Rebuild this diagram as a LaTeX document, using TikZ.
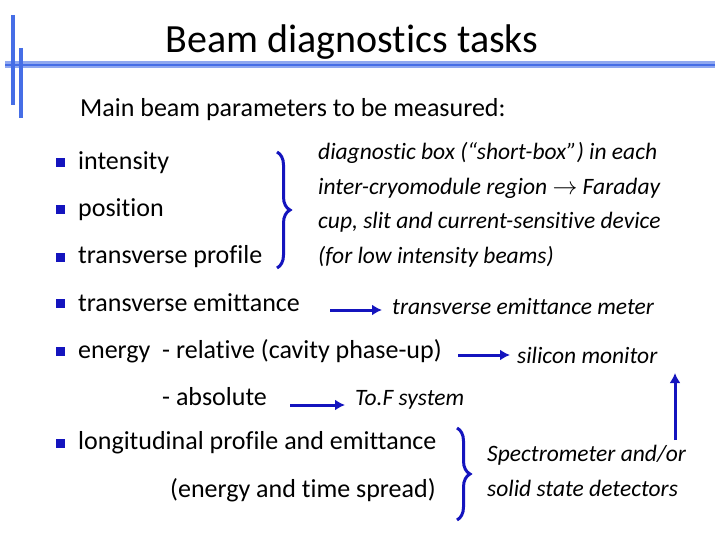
\documentclass[tikz,border=0pt]{standalone}
\usepackage{fontspec}
\setmainfont[Ligatures=NoCommon]{Carlito}
\usetikzlibrary{decorations.pathreplacing,arrows.meta}
\definecolor{barblue}{RGB}{70,110,230}
\definecolor{arrblue}{RGB}{20,20,190}
\tikzset{
  item/.style={anchor=west,inner sep=0pt,font=\fontsize{26}{28}\selectfont},
  note/.style={anchor=west,inner sep=0pt,font=\fontsize{23.5}{34.5}\selectfont\itshape,align=left},
  bul/.style={fill=arrblue,minimum size=9pt,inner sep=0pt},
  arr/.style={draw=arrblue,line width=3pt,-{Latex[length=10pt,width=11pt]}},
  brc/.style={draw=arrblue,line width=3pt,decorate,decoration={brace,amplitude=13pt}}
}
\begin{document}
\begin{tikzpicture}[x=1pt,y=-1pt]
		\useasboundingbox (0,0) rectangle (720,540);
		% Title bar
		\draw[barblue!60,line width=7pt] (5,65) -- (715,65);
		\draw[barblue,line width=2.5pt] (5,65) -- (715,65);
		\draw[barblue,line width=3.5pt] (13,15) -- (13,105);
		\draw[barblue,line width=3.5pt] (21,48) -- (21,118);
		\node[font=\fontsize{40}{42}\selectfont] (title) at (352,42) {Beam diagnostics tasks};
		\node[item] (main) at (80,110) {Main beam parameters to be measured:};
		% Bullet items
		\foreach \y/\txt/\nm in {163/intensity/int,210/position/pos,257/transverse profile/prof,
			303/transverse emittance/emit,351/{energy\ \ - relative (cavity phase-up)}/ener,443/longitudinal profile and emittance/long}{
			\node[bul] at (60,\y) {};
			\node[item] (\nm) at (78,\y) {\txt};
		}
		\node[item] (abs) at (162,397) {- absolute};
		\node[item] (spread) at (170,490) {(energy and time spread)};
		% Braces
		\draw[brc] (277,152) -- (277,268);
		\draw[brc] (457,428) -- (457,520);
		% Notes
		\node[note] (box) at (318,205) {diagnostic box (“short-box”) in each\\inter-cryomodule region $\rightarrow$ Faraday\\cup, slit and current-sensitive device\\(for low intensity beams)};
		\node[note] (meter) at (392,307) {transverse emittance meter};
		\node[note] (silicon) at (517,355) {silicon monitor};
		\node[note] (tof) at (355,400) {To.F system};
		\node[note] (spec) at (487,471) {Spectrometer and/or\\solid state detectors};
		% Arrows
		\coordinate (a1) at (330,310); \coordinate (b1) at (382,310);
		\coordinate (a2) at (458,355); \coordinate (b2) at (510,355);
		\coordinate (a3) at (290,405); \coordinate (b3) at (345,405);
		\coordinate (a4) at (675,440); \coordinate (b4) at (675,373);
		\draw[arr] (a1) -- (b1);
		\draw[arr] (a2) -- (b2);
		\draw[arr] (a3) -- (b3);
		\draw[arr] (a4) -- (b4);
\end{tikzpicture}
\end{document}
